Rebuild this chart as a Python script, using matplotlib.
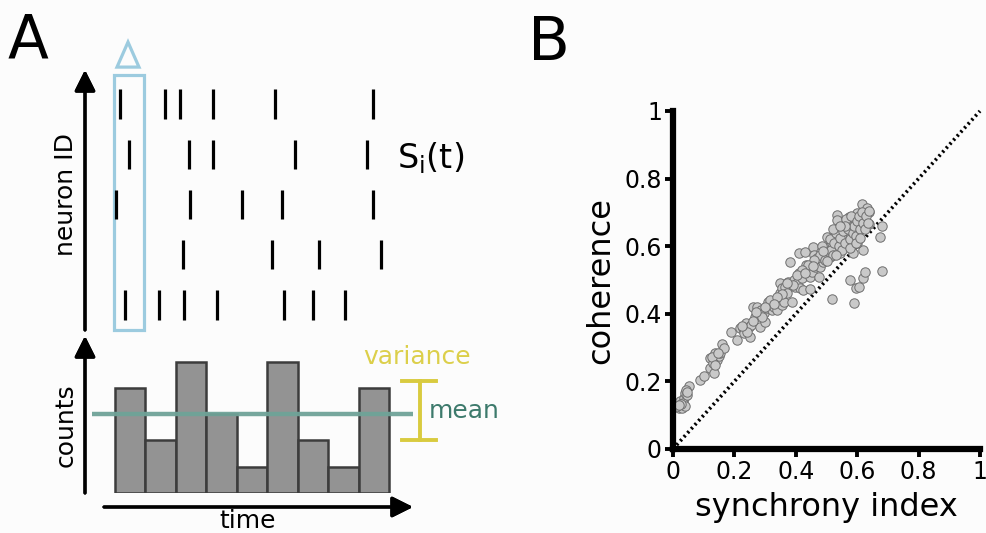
import numpy as np
import matplotlib
matplotlib.use('Agg')
import matplotlib.pyplot as plt
from matplotlib.patches import Rectangle, Polygon

# spike times per neuron (bottom row first), arbitrary time units
spikes = [
    [40, 74, 99, 132, 199, 228, 260],
    [98, 187, 234, 296],
    [31, 105, 157, 197, 288],
    [44, 104, 128, 210, 282],
    [35, 80, 95, 128, 190, 288],
]
neuron_ids = [1, 2, 3, 4, 5]

# population counts per time bin
counts = np.array([4, 2, 5, 3, 1, 5, 2, 1, 4])
bin_width = 30.5
bin_start = 30.0
variance_lo, variance_hi = 2.0, 4.25

# synchrony index vs coherence
sync = [0.018, 0.029, 0.024, 0.035, 0.040, 0.051, 0.043, 0.013, 0.033, 0.046, 0.038, 0.027, 0.045, 0.020,
        0.089, 0.100,
        0.119, 0.121, 0.132, 0.138, 0.143, 0.149, 0.154, 0.159, 0.165, 0.130, 0.127, 0.145, 0.136,
        0.190, 0.210, 0.217, 0.228, 0.230, 0.239, 0.246, 0.252, 0.254, 0.262, 0.268, 0.273, 0.279, 0.284,
        0.286, 0.295, 0.300, 0.306, 0.311, 0.317, 0.322, 0.328, 0.338, 0.344, 0.349, 0.355, 0.360, 0.349,
        0.355, 0.366, 0.371, 0.376, 0.382, 0.387, 0.393, 0.398, 0.403, 0.409, 0.412, 0.414, 0.420, 0.425,
        0.431, 0.434, 0.436, 0.441, 0.445, 0.447, 0.452, 0.456, 0.458, 0.463, 0.469, 0.474, 0.479, 0.485,
        0.488, 0.490, 0.496, 0.501, 0.507, 0.512, 0.517, 0.517, 0.523, 0.528, 0.534, 0.534, 0.536, 0.539,
        0.544, 0.550, 0.555, 0.561, 0.566, 0.572, 0.575, 0.577, 0.582, 0.586, 0.588, 0.593, 0.597, 0.599,
        0.604, 0.607, 0.610, 0.615, 0.620, 0.620, 0.626, 0.626, 0.631, 0.637, 0.640, 0.675, 0.680, 0.682,
        0.470, 0.480, 0.495, 0.505, 0.510, 0.515, 0.520, 0.525, 0.530, 0.540, 0.545, 0.550, 0.555, 0.560,
        0.565, 0.570, 0.575, 0.580, 0.585, 0.590, 0.595, 0.600, 0.605, 0.610, 0.615, 0.620, 0.625, 0.630,
        0.635, 0.640, 0.600, 0.560, 0.500, 0.485, 0.460, 0.440, 0.420, 0.405, 0.390, 0.370, 0.355, 0.340,
        0.330, 0.300, 0.290, 0.270, 0.260, 0.240, 0.225, 0.520, 0.545, 0.575, 0.595, 0.610, 0.530, 0.490,
        0.455, 0.430]
coher = [0.121, 0.121, 0.141, 0.151, 0.165, 0.185, 0.175, 0.126, 0.136, 0.160, 0.128, 0.133, 0.170, 0.130,
         0.205, 0.217,
         0.239, 0.269, 0.226, 0.283, 0.264, 0.274, 0.283, 0.311, 0.298, 0.254, 0.272, 0.285, 0.248,
         0.345, 0.323, 0.357, 0.357, 0.343, 0.372, 0.362, 0.331, 0.367, 0.421, 0.392, 0.421, 0.402, 0.362,
         0.411, 0.402, 0.377, 0.416, 0.436, 0.441, 0.411, 0.421, 0.411, 0.441, 0.461, 0.426, 0.436, 0.490,
         0.475, 0.480, 0.461, 0.495, 0.554, 0.436, 0.500, 0.480, 0.490, 0.520, 0.579, 0.475, 0.505, 0.470,
         0.584, 0.544, 0.520, 0.530, 0.472, 0.510, 0.525, 0.598, 0.574, 0.539, 0.554, 0.510, 0.539, 0.569,
         0.598, 0.554, 0.579, 0.628, 0.598, 0.569, 0.608, 0.443, 0.628, 0.598, 0.692, 0.677, 0.618, 0.638,
         0.579, 0.657, 0.608, 0.628, 0.657, 0.687, 0.500, 0.638, 0.667, 0.579, 0.433, 0.677, 0.475, 0.697,
         0.648, 0.480, 0.667, 0.726, 0.589, 0.505, 0.525, 0.687, 0.712, 0.702, 0.667, 0.628, 0.659, 0.527,
         0.565, 0.575, 0.560, 0.585, 0.620, 0.590, 0.575, 0.610, 0.640, 0.600, 0.625, 0.590, 0.645, 0.610,
         0.680, 0.650, 0.620, 0.690, 0.640, 0.660, 0.630, 0.675, 0.690, 0.650, 0.700, 0.670, 0.650, 0.690,
         0.670, 0.705, 0.610, 0.660, 0.555, 0.600, 0.560, 0.545, 0.530, 0.515, 0.485, 0.490, 0.460, 0.450,
         0.430, 0.420, 0.390, 0.405, 0.380, 0.345, 0.365, 0.650, 0.660, 0.595, 0.610, 0.625, 0.575, 0.585,
         0.540, 0.520]

W, H = 987, 533
bg = '#fcfcfc'
blue = '#9ccbdf'
teal = '#6fa398'
yellow = '#d9cb3f'

fig = plt.figure(figsize=(W / 100, H / 100), dpi=100, facecolor=bg)


def box(x0, y0, x1, y1):
    # image pixel box (top-left origin) -> figure fraction rect
    return [x0 / W, 1 - y1 / H, (x1 - x0) / W, (y1 - y0) / H]


def pix(x, y):
    return (x, H - y)


# ---- panel A: raster ----
ax_r = fig.add_axes(box(85, 75, 420, 330))
ax_r.set_facecolor('none')
ax_r.eventplot(spikes, lineoffsets=neuron_ids, linelengths=0.58, linewidths=2.3, colors='k')
ax_r.set_xlim(0, 335)
ax_r.set_ylim(0.5025, 5.577)
ax_r.axis('off')
ax_r.add_patch(Rectangle((29, 0), 30, 1, transform=ax_r.get_xaxis_transform(),
                         fill=False, ec=blue, lw=2.3, clip_on=False))
tri_x = [32, 54, 43]
tri_y = [1.031, 1.031, 1.129]
ax_r.add_patch(Polygon(list(zip(tri_x, tri_y)), closed=True, fill=False, ec=blue, lw=2.3,
                       transform=ax_r.get_xaxis_transform(), clip_on=False))

# ---- panel A: counts histogram ----
ax_h = fig.add_axes(box(85, 338, 420, 493))
ax_h.set_facecolor('none')
bins = bin_start + bin_width * np.arange(len(counts))
ax_h.bar(bins, counts, width=bin_width, align='edge', color='#939393', edgecolor='#3c3c3c', lw=1.8)
ax_h.set_xlim(0, 335)
ax_h.set_ylim(0, 155 / 26.3)
ax_h.axis('off')
ax_h.plot([7, 328], [counts.mean()] * 2, color=teal, lw=3.2, alpha=0.95, solid_capstyle='butt')
vx = 335
ax_h.plot([vx, vx], [variance_lo, variance_hi], color=yellow, lw=2.8, clip_on=False)
ax_h.plot([vx - 18, vx + 16], [variance_lo] * 2, color=yellow, lw=2.8, clip_on=False)
ax_h.plot([vx - 18, vx + 16], [variance_hi] * 2, color=yellow, lw=2.8, clip_on=False)

# arrows for the schematic axes
arrow = dict(arrowstyle='-|>,head_length=0.7,head_width=0.35', lw=2.3, color='k',
             mutation_scale=18, shrinkA=0, shrinkB=0)
fig.add_artist(plt.annotate('', xy=pix(85, 70), xytext=pix(85, 330),
                            xycoords='figure pixels', textcoords='figure pixels', arrowprops=arrow))
fig.add_artist(plt.annotate('', xy=pix(85, 336), xytext=pix(85, 493),
                            xycoords='figure pixels', textcoords='figure pixels', arrowprops=arrow))
fig.add_artist(plt.annotate('', xy=pix(413, 507), xytext=pix(104, 507),
                            xycoords='figure pixels', textcoords='figure pixels', arrowprops=arrow))

# texts panel A
fs = 18
fig.text(8 / W, 1 - 57 / H, 'A', fontsize=43, ha='left', va='baseline')
fig.text(397 / W, 1 - 158 / H, r'$\mathregular{S_i(t)}$', fontsize=24, ha='left', va='center')
fig.text(66 / W, 1 - 195 / H, 'neuron ID', fontsize=fs, rotation=90, ha='center', va='center')
fig.text(66 / W, 1 - 425 / H, 'counts', fontsize=fs, rotation=90, ha='center', va='center')
fig.text(248 / W, 1 - 521 / H, 'time', fontsize=fs, ha='center', va='center')
fig.text(417 / W, 1 - 357 / H, 'variance', fontsize=fs, ha='center', va='center', color='#dccf4a')
fig.text(429 / W, 1 - 411 / H, 'mean', fontsize=fs, ha='left', va='center', color='#3d7a6c')

# ---- panel B ----
ax = fig.add_axes(box(673, 111, 980, 449))
ax.set_facecolor('none')
ax.plot([0, 1], [0, 1], color='k', lw=2.6, linestyle=(0, (0.6, 0.9)), clip_on=False, zorder=1)
ax.scatter(sync, coher, s=46, facecolor='#c9c9c9', edgecolor='#6e6e6e', linewidth=0.7, zorder=2)
ax.set_xlim(0, 1)
ax.set_ylim(0, 1)
ticks = [0, 0.2, 0.4, 0.6, 0.8, 1]
labels = ['0', '0.2', '0.4', '0.6', '0.8', '1']
ax.set_xticks(ticks)
ax.set_xticklabels(labels)
ax.set_yticks(ticks)
ax.set_yticklabels(labels)
for s in ['top', 'right']:
    ax.spines[s].set_visible(False)
for s in ['left', 'bottom']:
    ax.spines[s].set_linewidth(4.5)
ax.tick_params(width=2.8, length=6, labelsize=17, pad=2)
ax.set_xlabel('synchrony index', fontsize=23, labelpad=6)
ax.set_ylabel('coherence', fontsize=23, labelpad=6)
fig.text(528 / W, 1 - 60 / H, 'B', fontsize=44, ha='left', va='baseline')

fig.savefig('out.png', dpi=100, facecolor=bg)
